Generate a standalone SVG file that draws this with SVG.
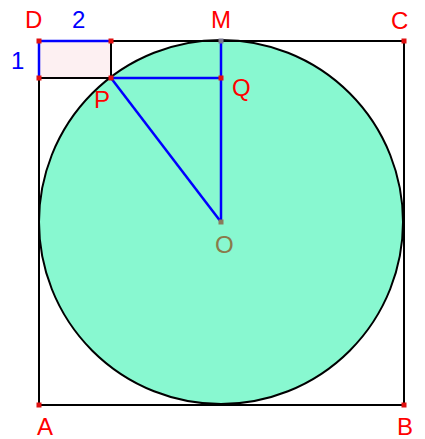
<svg xmlns="http://www.w3.org/2000/svg" width="425" height="439" viewBox="0 0 425 439">
<style>
.lbl{font-family:"Liberation Sans",Arial,sans-serif;font-size:24px;fill:#ff0000}
.num{font-family:"Liberation Sans",Arial,sans-serif;font-size:24px;fill:#0000ff}
.blk{stroke:#000;stroke-width:2;fill:none}
.blu{stroke:#0000ff;stroke-width:2.5;fill:none}
.pt{fill:#e01010}
</style>
<rect width="425" height="439" fill="#fff"/>
<g id="circle"><circle cx="221" cy="222" r="182" fill="#88f8d0" stroke="#000" stroke-width="2"/></g>
<g id="square"><rect x="39" y="41" width="365" height="364" class="blk"/></g>
<g id="rect"><rect x="39" y="41" width="72" height="37" fill="#fdf0f2" stroke="#000" stroke-width="2"/></g>
<g id="connectors">
<line x1="39" y1="41" x2="111" y2="41" class="blu"/>
<line x1="39" y1="41" x2="39" y2="78" class="blu"/>
<line x1="111" y1="78" x2="221" y2="78" class="blu"/>
<line x1="221" y1="41" x2="221" y2="222" class="blu"/>
<line x1="111" y1="78" x2="221" y2="222" class="blu"/>
</g>
<g id="points">
<rect x="36.5" y="38.5" width="5" height="5" class="pt"/>
<rect x="108.5" y="38.5" width="5" height="5" class="pt"/>
<rect x="36.5" y="75.5" width="5" height="5" class="pt"/>
<rect x="108.5" y="75.5" width="5" height="5" class="pt"/>
<rect x="218.5" y="38.5" width="5" height="5" fill="#7a7a90"/>
<rect x="218.5" y="75.5" width="5" height="5" class="pt"/>
<rect x="401.5" y="38.5" width="5" height="5" class="pt"/>
<rect x="218.5" y="219.5" width="5" height="5" fill="#8a7a5a"/>
<rect x="36.5" y="402.5" width="5" height="5" class="pt"/>
<rect x="401.5" y="402.5" width="5" height="5" class="pt"/>
</g>
<g id="labels">
<text class="lbl" x="25" y="28">D</text>
<text class="num" x="72" y="28">2</text>
<text class="num" x="11" y="69">1</text>
<text class="lbl" x="94" y="108">P</text>
<text class="lbl" x="211" y="28">M</text>
<text class="lbl" x="232" y="96">Q</text>
<text class="lbl" x="391" y="29">C</text>
<text class="lbl" x="215" y="253" style="fill:#8a7a4a">O</text>
<text class="lbl" x="37" y="435">A</text>
<text class="lbl" x="397" y="435">B</text>
</g>
</svg>
